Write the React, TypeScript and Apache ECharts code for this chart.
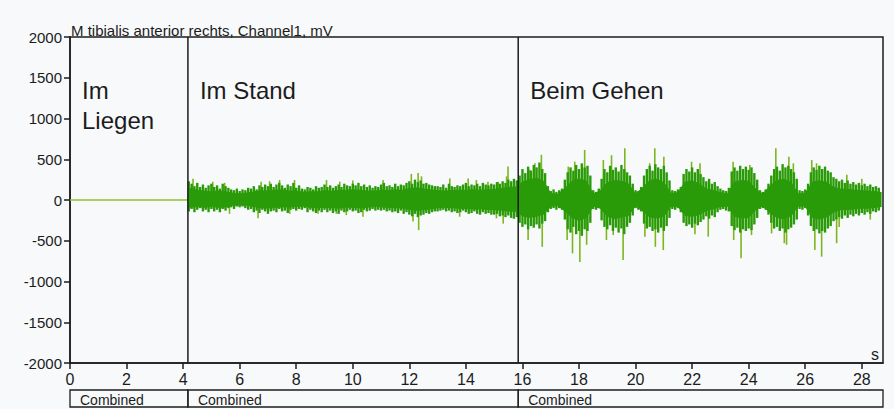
import React, { useEffect, useRef } from 'react';
import * as echarts from 'echarts';

const FONT = "'Liberation Sans', Arial, Helvetica, sans-serif";

const chartTitle = 'M tibialis anterior rechts, Channel1, mV';
const xUnit = 's';
const xTickValues = [0, 2, 4, 6, 8, 10, 12, 14, 16, 18, 20, 22, 24, 26, 28];
const xMax = 28.75;
const yMin = -2000;
const yMax = 2000;
const yStep = 500;

const phaseStart = [0, 4.17, 15.85];
const phaseEnd = [4.17, 15.85, 28.75];
const phaseLabels = ['Im\nLiegen', 'Im Stand', 'Beim Gehen'];
const segmentLabels = ['Combined', 'Combined', 'Combined'];

// resting phase: flat trace
const restT = [0, 4.17];
const restV = [0, 0];

// dense core of the EMG trace (upper / lower edge)
const bandT = [
  4.17, 4.25, 4.5, 4.75, 5, 5.25, 5.5, 5.75, 6, 6.25, 6.5, 6.75, 7, 7.25, 7.5, 7.75,
  8, 8.25, 8.5, 8.75, 9, 9.25, 9.5, 9.75, 10, 10.25, 10.5, 10.75, 11, 11.25, 11.5, 11.75,
  12, 12.25, 12.5, 12.75, 13, 13.25, 13.5, 13.75, 14, 14.25, 14.5, 14.75, 15, 15.25, 15.5, 15.75,
  15.85, 16, 16.25, 16.5, 16.75, 17, 17.25, 17.5, 17.75, 18, 18.25, 18.5, 18.75, 19, 19.25, 19.5,
  19.75, 20, 20.25, 20.5, 20.75, 21, 21.25, 21.5, 21.75, 22, 22.25, 22.5, 22.75, 23, 23.25, 23.5,
  23.75, 24, 24.25, 24.5, 24.75, 25, 25.25, 25.5, 25.75, 26, 26.25, 26.5, 26.75, 27, 27.25, 27.5,
  27.75, 28, 28.25, 28.5, 28.7,
];
const bandHi = [
  130, 140, 120, 110, 100, 115, 100, 85, 75, 85, 100, 115, 110, 120, 125, 110,
  110, 95, 100, 100, 115, 110, 115, 120, 125, 120, 110, 110, 120, 115, 125, 120,
  140, 150, 135, 125, 115, 110, 115, 120, 120, 125, 120, 125, 130, 140, 155, 160,
  175, 220, 250, 270, 230, 80, 70, 140, 230, 260, 235, 75, 110, 215, 240, 230,
  200, 75, 150, 240, 255, 215, 80, 90, 220, 235, 200, 135, 120, 90, 75, 220,
  240, 230, 135, 70, 170, 240, 255, 215, 75, 80, 220, 235, 220, 155, 135, 130,
  120, 115, 110, 100, 90,
];
const bandLo = [
  -80, -90, -80, -90, -80, -90, -85, -65, -60, -65, -80, -95, -100, -90, -85, -85,
  -80, -75, -90, -95, -90, -95, -100, -90, -90, -95, -90, -80, -85, -90, -95, -100,
  -115, -130, -120, -110, -95, -90, -95, -100, -105, -110, -110, -115, -120, -125, -135, -140,
  -155, -195, -215, -200, -175, -75, -70, -135, -215, -250, -220, -75, -100, -200, -230, -210,
  -190, -70, -135, -210, -220, -200, -75, -80, -190, -200, -180, -130, -110, -80, -75, -200,
  -220, -215, -120, -70, -155, -215, -230, -195, -75, -75, -215, -235, -210, -150, -120, -115,
  -110, -100, -100, -90, -80,
];

// individual oscillation strokes around the core (min / max every 0.1 s)
const strokeT = [
  4.2, 4.3, 4.4, 4.5, 4.6, 4.7, 4.8, 4.9,
  5.0, 5.1, 5.2, 5.3, 5.4, 5.5, 5.6, 5.7, 5.8, 5.9,
  6.0, 6.1, 6.2, 6.3, 6.4, 6.5, 6.6, 6.7, 6.8, 6.9,
  7.0, 7.1, 7.2, 7.3, 7.4, 7.5, 7.6, 7.7, 7.8, 7.9,
  8.0, 8.1, 8.2, 8.3, 8.4, 8.5, 8.6, 8.7, 8.8, 8.9,
  9.0, 9.1, 9.2, 9.3, 9.4, 9.5, 9.6, 9.7, 9.8, 9.9,
  10.0, 10.1, 10.2, 10.3, 10.4, 10.5, 10.6, 10.7, 10.8, 10.9,
  11.0, 11.1, 11.2, 11.3, 11.4, 11.5, 11.6, 11.7, 11.8, 11.9,
  12.0, 12.1, 12.2, 12.3, 12.4, 12.5, 12.6, 12.7, 12.8, 12.9,
  13.0, 13.1, 13.2, 13.3, 13.4, 13.5, 13.6, 13.7, 13.8, 13.9,
  14.0, 14.1, 14.2, 14.3, 14.4, 14.5, 14.6, 14.7, 14.8, 14.9,
  15.0, 15.1, 15.2, 15.3, 15.4, 15.5, 15.6, 15.7, 15.8,
  15.9, 16.0, 16.1, 16.2, 16.3, 16.4, 16.5, 16.6, 16.7, 16.8, 16.9,
  17.0, 17.1, 17.2, 17.3, 17.4,
  17.5, 17.6, 17.7, 17.8, 17.9, 18.0, 18.1, 18.2, 18.3, 18.4,
  18.5, 18.6, 18.7,
  18.8, 18.9, 19.0, 19.1, 19.2, 19.3, 19.4, 19.5, 19.6, 19.7, 19.8, 19.9,
  20.0, 20.1, 20.2,
  20.3, 20.4, 20.5, 20.6, 20.7, 20.8, 20.9, 21.0, 21.1, 21.2,
  21.3, 21.4, 21.5, 21.6,
  21.7, 21.8, 21.9, 22.0, 22.1, 22.2, 22.3, 22.4,
  22.5, 22.6, 22.7, 22.8, 22.9,
  23.0, 23.1, 23.2, 23.3,
  23.4, 23.5, 23.6, 23.7, 23.8, 23.9, 24.0, 24.1, 24.2, 24.3,
  24.4, 24.5, 24.6, 24.7,
  24.8, 24.9, 25.0, 25.1, 25.2, 25.3, 25.4, 25.5, 25.6, 25.7,
  25.8, 25.9, 26.0, 26.1,
  26.2, 26.3, 26.4, 26.5, 26.6, 26.7, 26.8, 26.9, 27.0,
  27.1, 27.2, 27.3, 27.4, 27.5, 27.6, 27.7, 27.8, 27.9, 28.0, 28.1, 28.2, 28.3, 28.4, 28.5, 28.6,
];
const strokeHi = [
  230, 200, 170, 210, 160, 190, 150, 180,
  200, 160, 180, 140, 200, 170, 150, 130, 120, 140,
  110, 130, 120, 150, 140, 170, 130, 180, 160, 190,
  170, 200, 160, 190, 210, 180, 150, 190, 170, 210,
  150, 180, 140, 130, 160, 150, 130, 170, 150, 160,
  190, 160, 180, 150, 170, 190, 160, 200, 180, 170,
  200, 180, 210, 170, 190, 160, 180, 150, 170, 160,
  190, 210, 170, 180, 160, 200, 170, 190, 180, 210,
  230, 200, 250, 220, 240, 200, 210, 190, 180, 170,
  170, 160, 190, 150, 200, 170, 160, 180, 170, 190,
  210, 170, 190, 180, 200, 170, 210, 190, 180, 200,
  190, 220, 200, 230, 210, 250, 230, 260, 240,
  300, 380, 330, 410, 360, 430, 400, 460, 380, 330, 170,
  110, 130, 100, 120, 140,
  250, 340, 400, 360, 430, 380, 450, 400, 420, 300,
  120, 100, 140,
  260, 380, 340, 420, 370, 400, 350, 430, 380, 340, 300, 200,
  120, 110, 160,
  300, 380, 420, 360, 440, 400, 380, 420, 340, 240,
  120, 110, 130, 160,
  320, 380, 350, 400, 340, 380, 320, 280,
  230, 260, 200, 220, 170,
  140, 120, 110, 150,
  350, 400, 360, 420, 380, 410, 370, 400, 330, 250,
  120, 100, 130, 200,
  300, 380, 410, 360, 440, 400, 420, 380, 340, 260,
  120, 110, 130, 200,
  340, 400, 370, 420, 380, 410, 360, 340, 280,
  260, 230, 250, 210, 240, 200, 220, 190, 210, 180, 200, 170, 190, 160, 170, 150,
];
const strokeLo = [
  -140, -110, -150, -120, -100, -140, -120, -150,
  -110, -140, -120, -150, -110, -130, -100, -90, -110, -80,
  -90, -80, -100, -120, -110, -150, -130, -160, -120, -140,
  -170, -140, -130, -150, -110, -140, -130, -160, -120, -110,
  -130, -110, -120, -100, -150, -120, -140, -160, -130, -150,
  -120, -150, -130, -160, -140, -170, -130, -150, -140, -120,
  -140, -130, -160, -150, -120, -140, -130, -110, -130, -120,
  -130, -120, -140, -130, -150, -140, -160, -130, -170, -150,
  -180, -200, -170, -210, -190, -180, -160, -170, -150, -140,
  -140, -130, -120, -140, -130, -150, -140, -160, -150, -130,
  -150, -170, -160, -140, -170, -180, -150, -170, -160, -180,
  -180, -170, -200, -190, -210, -190, -220, -230, -210,
  -280, -330, -300, -360, -320, -340, -300, -350, -290, -260, -150,
  -110, -100, -120, -100, -120,
  -240, -360, -400, -330, -420, -380, -440, -360, -380, -280,
  -110, -120, -100,
  -250, -330, -360, -310, -380, -340, -400, -350, -420, -330, -280, -190,
  -100, -120, -140,
  -290, -350, -330, -380, -360, -400, -340, -380, -320, -220,
  -110, -120, -100, -150,
  -280, -320, -300, -340, -290, -310, -270, -240,
  -200, -230, -190, -210, -150,
  -120, -110, -130, -140,
  -320, -370, -340, -400, -360, -380, -350, -370, -300, -220,
  -110, -100, -120, -180,
  -280, -350, -330, -380, -350, -400, -360, -340, -300, -240,
  -110, -120, -100, -190,
  -320, -380, -360, -410, -380, -400, -350, -320, -260,
  -240, -210, -230, -190, -220, -180, -200, -170, -190, -160, -180, -150, -170, -140, -150, -130,
];

// isolated peaks sticking far out of the trace
const spikeT = [
  4.35, 5.05, 5.47, 5.64, 6.65, 6.76, 7.06, 7.41, 7.77, 7.94, 8.77, 9.07, 9.42, 9.54, 9.77, 10.0,
  10.36, 11.07, 12.07, 12.13, 12.31, 12.33, 12.43, 13.43, 13.78, 14.08, 14.37, 14.78, 15.08, 15.14,
  15.32, 15.44, 15.49,
  16.2, 16.26, 16.44, 16.67, 16.7, 17.58, 17.62, 17.77, 17.85, 18.03, 18.2, 18.27, 18.86, 18.97,
  19.15, 19.21, 19.56, 19.62, 20.33, 20.5, 20.68, 20.7, 20.98, 21.0, 21.98, 22.1, 22.28, 22.57,
  23.45, 23.47, 23.73, 24.04, 24.1, 24.81, 24.96, 25.26, 25.34, 25.42, 25.58, 26.23, 26.34, 26.4,
  26.58, 27.11, 27.2, 27.47, 28.0, 28.3,
];
const spikeV = [
  260, 225, 210, -170, -225, 225, 230, 245, -170, 245, -170, 245, -170, 225, -185, 240,
  -205, 245, 320, -265, 330, -370, 290, 265, -205, 265, 245, 225, -225, 225,
  -290, 290, 410,
  -490, 370, 450, 555, -575, -490, 410, -655, 470, -760, 615, -550, 490, -490,
  550, -430, -735, 635, -450, 450, 635, -575, -615, 530, 470, -420, 450, -450,
  470, -490, -715, 430, -430, -410, 635, -530, -550, 530, 450, 490, -615, 450,
  -695, -530, -330, 310, 260, -240,
];

const INK = '#1c1c1c';
const TRACE = '#2a9b08';

export default function App() {
  const ref = useRef<HTMLDivElement>(null);

  useEffect(() => {
    if (!ref.current) return;
    const chart = echarts.init(ref.current, undefined, { renderer: 'svg' });

    const bandHiData = bandT.map((t, i) => [t, bandHi[i]]);
    const bandLoData = bandT.map((t, i) => [t, bandLo[i]]);
    const strokeData = strokeT.map((t, i) => [t, strokeLo[i], strokeHi[i]]);
    const spikeData = spikeT.map((t, i) => [t, spikeV[i]]);
    const restData = restT.map((t, i) => [t, restV[i]]);
    const phaseData = phaseStart.map((s, i) => [s, phaseEnd[i]]);

    const option: any = {
      animation: false,
      backgroundColor: '#f7f9fb',
      textStyle: { fontFamily: FONT },
      grid: [
        {
          left: 70, right: 11, top: 37, bottom: 46,
          show: true, borderColor: INK, borderWidth: 1.5, backgroundColor: 'transparent',
        },
        { left: 70, right: 11, top: 390, height: 17 },
      ],
      xAxis: [
        {
          type: 'value', gridIndex: 0, min: 0, max: xMax, interval: 2,
          axisLine: { show: true, onZero: false, lineStyle: { color: INK, width: 1.5 } },
          axisTick: { show: true, length: 6, customValues: xTickValues, lineStyle: { color: INK, width: 1.5 } },
          axisLabel: { color: INK, fontSize: 16, margin: 8, fontFamily: FONT, customValues: xTickValues },
          splitLine: { show: false },
        },
        { type: 'value', gridIndex: 1, min: 0, max: xMax, show: false },
      ],
      yAxis: [
        {
          type: 'value', gridIndex: 0, min: yMin, max: yMax, interval: yStep,
          axisLine: { show: true, onZero: false, lineStyle: { color: INK, width: 1.5 } },
          axisTick: { show: true, length: 6, lineStyle: { color: INK, width: 1.5 } },
          axisLabel: {
            color: INK, fontSize: 15, margin: 8, fontFamily: FONT,
            formatter: (v: number) => String(v),
          },
          splitLine: { show: false },
        },
        { type: 'value', gridIndex: 1, min: 0, max: 1, show: false },
      ],
      graphic: [
        {
          type: 'text', left: 71, top: 23, z: 10,
          style: { text: chartTitle, fill: INK, fontSize: 15, fontFamily: FONT },
        },
        {
          type: 'text', left: 871, top: 346, z: 10,
          style: { text: xUnit, fill: INK, fontSize: 16, fontFamily: FONT },
        },
      ],
      series: [
        {
          type: 'custom', name: 'spikes', xAxisIndex: 0, yAxisIndex: 0, z: 2,
          data: spikeData,
          renderItem: (params: any, api: any) => {
            const t = api.value(0);
            const p0 = api.coord([t, 0]);
            const p1 = api.coord([t, api.value(1)]);
            return {
              type: 'line',
              shape: { x1: p0[0], y1: p0[1], x2: p1[0], y2: p1[1] },
              style: { stroke: '#7db61f', lineWidth: 1.6 },
            };
          },
        },
        {
          type: 'custom', name: 'strokes', xAxisIndex: 0, yAxisIndex: 0, z: 2,
          data: strokeData,
          renderItem: (params: any, api: any) => {
            const t = api.value(0);
            const p0 = api.coord([t, api.value(1)]);
            const p1 = api.coord([t, api.value(2)]);
            return {
              type: 'line',
              shape: { x1: p0[0], y1: p0[1], x2: p1[0], y2: p1[1] },
              style: { stroke: TRACE, lineWidth: 2.4 },
            };
          },
        },
        {
          type: 'line', name: 'upper', xAxisIndex: 0, yAxisIndex: 0, z: 3,
          data: bandHiData, symbol: 'none', showSymbol: false,
          lineStyle: { color: TRACE, width: 1 },
          areaStyle: { color: TRACE, opacity: 1 },
        },
        {
          type: 'line', name: 'lower', xAxisIndex: 0, yAxisIndex: 0, z: 3,
          data: bandLoData, symbol: 'none', showSymbol: false,
          lineStyle: { color: TRACE, width: 1 },
          areaStyle: { color: TRACE, opacity: 1 },
        },
        {
          type: 'line', name: 'rest', xAxisIndex: 0, yAxisIndex: 0, z: 3,
          data: restData, symbol: 'none', showSymbol: false,
          lineStyle: { color: '#8fc031', width: 1.5 },
        },
        {
          type: 'custom', name: 'phases', xAxisIndex: 0, yAxisIndex: 0, z: 5,
          data: phaseData,
          renderItem: (params: any, api: any) => {
            const i = params.dataIndex;
            const s = api.value(0);
            const top = api.coord([s, yMax]);
            const bot = api.coord([s, yMin]);
            const children: any[] = [];
            if (s > 0) {
              children.push({
                type: 'line',
                shape: { x1: top[0], y1: top[1], x2: bot[0], y2: bot[1] },
                style: { stroke: INK, lineWidth: 1.5 },
              });
            }
            children.push({
              type: 'text',
              x: top[0] + 12,
              y: top[1] + 38,
              style: {
                text: phaseLabels[i], fill: INK, fontSize: 24, fontFamily: FONT,
                lineHeight: 30, align: 'left', verticalAlign: 'top',
              },
            });
            return { type: 'group', children };
          },
        },
        {
          type: 'custom', name: 'segments', xAxisIndex: 1, yAxisIndex: 1, z: 5,
          data: phaseData,
          renderItem: (params: any, api: any) => {
            const i = params.dataIndex;
            const a = api.coord([api.value(0), 1]);
            const b = api.coord([api.value(1), 0]);
            return {
              type: 'group',
              children: [
                {
                  type: 'rect',
                  shape: { x: a[0], y: a[1], width: b[0] - a[0], height: b[1] - a[1] },
                  style: { fill: 'none', stroke: INK, lineWidth: 1.3 },
                },
                {
                  type: 'text',
                  x: a[0] + 10,
                  y: (a[1] + b[1]) / 2 + 1,
                  style: {
                    text: segmentLabels[i], fill: INK, fontSize: 14, fontFamily: FONT,
                    align: 'left', verticalAlign: 'middle',
                  },
                },
              ],
            };
          },
        },
      ],
    };

    chart.setOption(option);
    return () => chart.dispose();
  }, []);

  return (
    <div
      ref={ref}
      style={{ position: 'absolute', left: 0, top: 0, width: 894, height: 409 }}
    />
  );
}
